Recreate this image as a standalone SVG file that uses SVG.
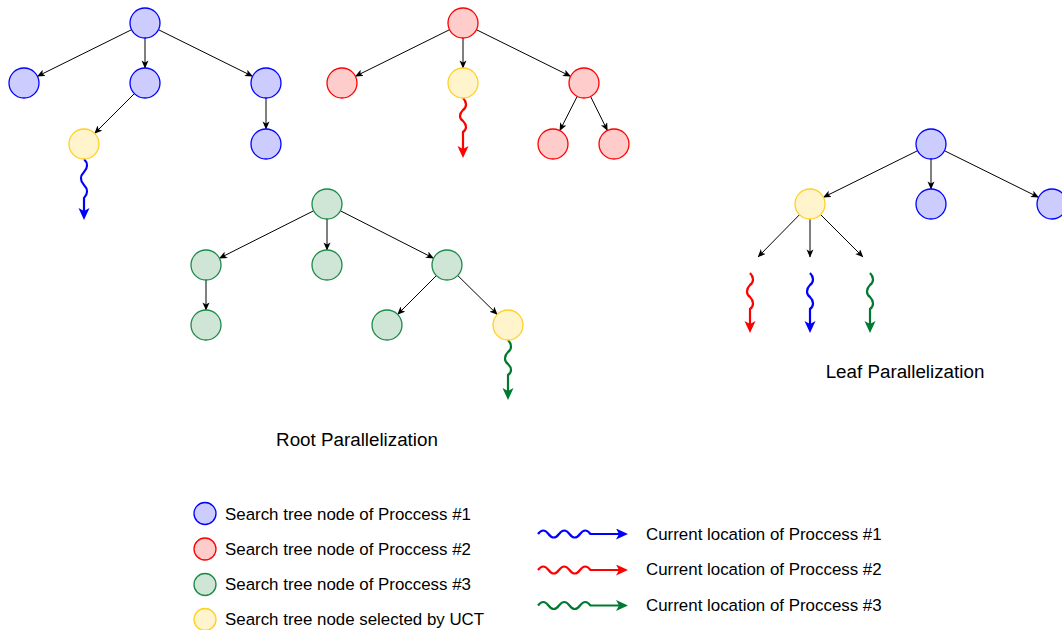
<svg xmlns="http://www.w3.org/2000/svg" width="1062" height="630" viewBox="0 0 1062 630">
  <style>
    .n1 { fill: #ccccff; stroke: #0000ff; stroke-width: 1.3; }
    .n2 { fill: #ffcccc; stroke: #ff0000; stroke-width: 1.3; }
    .n3 { fill: #cfe6d7; stroke: #1c8a48; stroke-width: 1.3; }
    .ns { fill: #fff4cc; stroke: #ffd024; stroke-width: 1.3; }
    .edge { fill: none; stroke: #000; stroke-width: 1; marker-end: url(#arr); }
    .w1 { fill: none; stroke: #0000ff; stroke-width: 2.2; marker-end: url(#arrB); }
    .w2 { fill: none; stroke: #ff0000; stroke-width: 2.2; marker-end: url(#arrR); }
    .w3 { fill: none; stroke: #007a30; stroke-width: 2.2; marker-end: url(#arrG); }
    .title { font-family: "Liberation Sans", Arial, sans-serif; font-size: 18.8px; fill: #000; text-anchor: middle; }
    .lbl { font-family: "Liberation Sans", Arial, sans-serif; font-size: 16.9px; fill: #000; }
  </style>
  <defs>
    <marker id="arr" markerUnits="userSpaceOnUse" markerWidth="9" markerHeight="8" refX="7.6" refY="3.5" orient="auto">
      <path d="M0,0 L8,3.5 L0,7 L2,3.5 z" fill="#000"/>
    </marker>
    <marker id="arrB" markerUnits="userSpaceOnUse" markerWidth="13" markerHeight="12" refX="3" refY="5.5" orient="auto">
      <path d="M0,0 L12,5.5 L0,11 L3,5.5 z" fill="#0000ff"/>
    </marker>
    <marker id="arrR" markerUnits="userSpaceOnUse" markerWidth="13" markerHeight="12" refX="3" refY="5.5" orient="auto">
      <path d="M0,0 L12,5.5 L0,11 L3,5.5 z" fill="#ff0000"/>
    </marker>
    <marker id="arrG" markerUnits="userSpaceOnUse" markerWidth="13" markerHeight="12" refX="3" refY="5.5" orient="auto">
      <path d="M0,0 L12,5.5 L0,11 L3,5.5 z" fill="#007a30"/>
    </marker>
  </defs>

  <!-- tree edges -->
  <g id="connectors">
    <!-- process 1 tree -->
    <line class="edge" x1="131.6" y1="29.7" x2="37.4" y2="76.3"/>
    <line class="edge" x1="145" y1="38" x2="145" y2="68"/>
    <line class="edge" x1="158.4" y1="29.7" x2="252.6" y2="76.3"/>
    <line class="edge" x1="134.4" y1="93.6" x2="94.6" y2="133.4"/>
    <line class="edge" x1="266" y1="98" x2="266" y2="129"/>
    <!-- process 2 tree -->
    <line class="edge" x1="449.6" y1="29.7" x2="355.4" y2="76.3"/>
    <line class="edge" x1="463" y1="38" x2="463" y2="68"/>
    <line class="edge" x1="476.4" y1="29.7" x2="570.6" y2="76.3"/>
    <line class="edge" x1="577.2" y1="96.4" x2="559.8" y2="130.6"/>
    <line class="edge" x1="590.6" y1="96.5" x2="607.4" y2="130.5"/>
    <!-- process 3 tree -->
    <line class="edge" x1="313.6" y1="210.8" x2="219.4" y2="258.2"/>
    <line class="edge" x1="327" y1="219" x2="327" y2="250"/>
    <line class="edge" x1="340.4" y1="210.8" x2="433.6" y2="258.2"/>
    <line class="edge" x1="206" y1="280" x2="206" y2="310"/>
    <line class="edge" x1="436.4" y1="275.6" x2="397.6" y2="314.4"/>
    <line class="edge" x1="457.7" y1="275.5" x2="497.3" y2="314.5"/>
    <!-- leaf parallel tree -->
    <line class="edge" x1="917.6" y1="150.7" x2="823.4" y2="197.3"/>
    <line class="edge" x1="931" y1="159" x2="931" y2="189"/>
    <line class="edge" x1="944.4" y1="150.7" x2="1038.6" y2="197.3"/>
    <line class="edge" x1="799.5" y1="214.7" x2="758" y2="257"/>
    <line class="edge" x1="810" y1="219" x2="810" y2="257"/>
    <line class="edge" x1="820.6" y1="214.6" x2="863" y2="257"/>

    <!-- playouts (wavy arrows) -->
    <path class="w1" d="M84,159 C88,163 88,168 84,172 C80,176 80,181 84,185 C88,189 88,194 84,198 L84,211"/>
    <path class="w2" d="M463,98 C467,102 467,107 463,110 C459,114 459,118 463,121 C467,125 467,129 463,132 L463,149"/>
    <path class="w3" d="M508,340 C512,344 512,349 508,352 C504,356 504,361 508,364 C512,368 512,372 508,375 L508,391"/>
    <path class="w2" d="M750,273 C754,277 754,282 750,285 C746,289 746,294 750,297 C754,301 754,306 750,309 L750,324"/>
    <path class="w1" d="M810,273 C814,277 814,282 810,285 C806,289 806,294 810,297 C814,301 814,306 810,309 L810,324"/>
    <path class="w3" d="M870,273 C874,277 874,282 870,285 C866,289 866,294 870,297 C874,301 874,306 870,309 L870,324"/>
  </g>

  <!-- process 1 search tree -->
  <g id="tree1">
    <circle class="n1" cx="145" cy="23" r="15"/>
    <circle class="n1" cx="24" cy="83" r="15"/>
    <circle class="n1" cx="145" cy="83" r="15"/>
    <circle class="n1" cx="266" cy="83" r="15"/>
    <circle class="ns" cx="84" cy="144" r="15"/>
    <circle class="n1" cx="266" cy="144" r="15"/>
  </g>

  <!-- process 2 search tree -->
  <g id="tree2">
    <circle class="n2" cx="463" cy="23" r="15"/>
    <circle class="n2" cx="342" cy="83" r="15"/>
    <circle class="ns" cx="463" cy="83" r="15"/>
    <circle class="n2" cx="584" cy="83" r="15"/>
    <circle class="n2" cx="553" cy="144" r="15"/>
    <circle class="n2" cx="614" cy="144" r="15"/>
  </g>

  <!-- process 3 search tree -->
  <g id="tree3">
    <circle class="n3" cx="327" cy="204" r="15"/>
    <circle class="n3" cx="206" cy="265" r="15"/>
    <circle class="n3" cx="327" cy="265" r="15"/>
    <circle class="n3" cx="447" cy="265" r="15"/>
    <circle class="n3" cx="206" cy="325" r="15"/>
    <circle class="n3" cx="387" cy="325" r="15"/>
    <circle class="ns" cx="508" cy="325" r="15"/>
  </g>

  <!-- leaf parallel search tree -->
  <g id="tree-leaf">
    <circle class="n1" cx="931" cy="144" r="15"/>
    <circle class="ns" cx="810" cy="204" r="15"/>
    <circle class="n1" cx="931" cy="204" r="15"/>
    <circle class="n1" cx="1052" cy="204" r="15"/>
  </g>

  <g id="titles">
    <text class="title" x="357" y="445.5">Root Parallelization</text>
    <text class="title" x="905" y="378">Leaf Parallelization</text>
  </g>

  <!-- legend: node colours -->
  <g id="legend-nodes">
    <circle class="n1" cx="205" cy="513.5" r="11"/>
    <text class="lbl" x="225" y="519.5">Search tree node of Proccess #1</text>
    <circle class="n2" cx="205" cy="549" r="11"/>
    <text class="lbl" x="225" y="554.5">Search tree node of Proccess #2</text>
    <circle class="n3" cx="205" cy="584.5" r="11"/>
    <text class="lbl" x="225" y="590">Search tree node of Proccess #3</text>
    <circle class="ns" cx="205" cy="619.5" r="11"/>
    <text class="lbl" x="225" y="624.5">Search tree node selected by UCT</text>
  </g>

  <!-- legend: process locations -->
  <g id="legend-arrows">
    <path class="w1" d="M538,534 q5.25,-7 10.5,0 t10.5,0 t10.5,0 t10.5,0 t10.5,0 L619,534"/>
    <text class="lbl" x="646" y="539.5">Current location of Proccess #1</text>
    <path class="w2" d="M538,570 q5.25,-7 10.5,0 t10.5,0 t10.5,0 t10.5,0 t10.5,0 L619,570"/>
    <text class="lbl" x="646" y="575">Current location of Proccess #2</text>
    <path class="w3" d="M538,605.5 q5.25,-7 10.5,0 t10.5,0 t10.5,0 t10.5,0 t10.5,0 L619,605.5"/>
    <text class="lbl" x="646" y="610.5">Current location of Proccess #3</text>
  </g>
</svg>
